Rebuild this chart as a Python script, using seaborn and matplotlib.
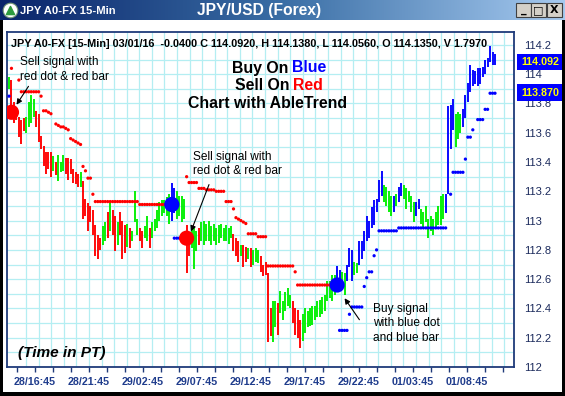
import matplotlib
matplotlib.use("Agg")
import matplotlib.pyplot as plt
from matplotlib.patches import Rectangle, FancyArrowPatch
from matplotlib.colors import LinearSegmentedColormap
import numpy as np
import pandas as pd
import seaborn as sns

W, H, DPI = 565, 396, 100

# ---------------- data ----------------
highs = [
    113.98, 113.96, 113.81, 113.76, 113.71, 113.69, 113.70, 113.71, 113.81, 113.86,
    113.83, 113.75, 113.73, 113.58, 113.51, 113.47, 113.47, 113.47, 113.44, 113.40,
    113.45, 113.40, 113.45, 113.43, 113.43, 113.42, 113.35, 113.33, 113.32, 113.33,
    113.27, 113.15, 113.12, 113.10, 113.07, 112.97, 112.90, 112.88, 112.96, 112.99,
    113.06, 113.12, 113.07, 113.03, 112.99, 113.06, 113.00, 112.97, 112.98, 112.95,
    112.93, 113.20, 113.01, 112.95, 112.93, 112.96, 113.03, 112.95, 112.99, 113.01,
    113.07, 113.13, 113.14, 113.14, 113.16, 113.18, 113.26, 113.22, 113.20, 113.17,
    113.17, 113.15, 112.97, 112.90, 112.96, 112.95, 112.93, 112.95, 112.99, 113.00,
    112.98, 113.00, 112.96, 112.98, 112.95, 112.97, 112.98, 112.95, 112.97, 112.95,
    112.96, 112.91, 112.88, 112.86, 112.83, 112.83, 112.82, 112.81, 112.81, 112.80,
    112.81, 112.80, 112.76, 112.70, 112.72, 112.64, 112.40, 112.45, 112.45, 112.44,
    112.52, 112.45, 112.51, 112.54, 112.49, 112.45, 112.40, 112.39, 112.32, 112.36,
    112.40, 112.38, 112.40, 112.42, 112.42, 112.45, 112.46, 112.48, 112.49, 112.59,
    112.59, 112.63, 112.63, 112.69, 112.66, 112.65, 112.64, 112.70, 112.81, 112.80,
    112.72, 112.71, 112.86, 112.86, 112.93, 113.03, 113.00, 113.09, 113.14, 113.15,
    113.28, 113.34, 113.24, 113.23, 113.20, 113.17, 113.17, 113.18, 113.23, 113.26,
    113.24, 113.22, 113.20, 113.17, 113.13, 113.13, 113.15, 113.08, 113.06, 113.10,
    113.01, 113.03, 113.01, 113.06, 113.10, 113.17, 113.18, 113.18, 113.78, 113.79,
    113.83, 113.73, 113.74, 113.73, 113.76, 113.86, 113.94, 114.06, 114.03, 114.02,
    114.04, 114.04, 114.05, 114.10, 114.11, 114.19, 114.15, 114.14]

lows = [
    113.90, 113.70, 113.67, 113.69, 113.57, 113.52, 113.61, 113.60, 113.64, 113.67,
    113.71, 113.64, 113.54, 113.49, 113.37, 113.32, 113.35, 113.30, 113.34, 113.31,
    113.27, 113.33, 113.34, 113.32, 113.28, 113.32, 113.26, 113.25, 113.23, 113.23,
    113.01, 113.03, 112.93, 112.99, 112.90, 112.76, 112.74, 112.80, 112.83, 112.86,
    112.88, 112.93, 112.90, 112.79, 112.83, 112.90, 112.74, 112.78, 112.82, 112.81,
    112.86, 112.99, 112.90, 112.86, 112.81, 112.88, 112.86, 112.81, 112.88, 112.93,
    112.95, 113.00, 113.03, 113.05, 113.03, 112.98, 113.00, 113.05, 113.01, 113.03,
    112.99, 113.01, 112.64, 112.76, 112.81, 112.67, 112.79, 112.83, 112.86, 112.83,
    112.86, 112.86, 112.83, 112.86, 112.83, 112.85, 112.88, 112.86, 112.86, 112.84,
    112.88, 112.79, 112.76, 112.72, 112.76, 112.68, 112.72, 112.74, 112.68, 112.70,
    112.72, 112.71, 112.65, 112.62, 112.63, 112.17, 112.21, 112.17, 112.27, 112.22,
    112.37, 112.32, 112.38, 112.42, 112.40, 112.30, 112.22, 112.20, 112.13, 112.18,
    112.23, 112.27, 112.28, 112.29, 112.32, 112.34, 112.34, 112.36, 112.38, 112.45,
    112.47, 112.45, 112.49, 112.52, 112.55, 112.54, 112.49, 112.59, 112.68, 112.59,
    112.63, 112.64, 112.70, 112.74, 112.79, 112.86, 112.88, 112.95, 112.97, 113.06,
    113.13, 113.17, 113.13, 113.10, 113.06, 113.03, 113.06, 113.10, 113.13, 113.17,
    113.15, 113.08, 113.13, 113.06, 112.99, 113.03, 113.08, 112.98, 112.95, 112.99,
    112.88, 112.93, 112.90, 112.95, 112.97, 112.97, 113.01, 113.05, 113.18, 113.49,
    113.62, 113.50, 113.56, 113.60, 113.64, 113.70, 113.81, 113.88, 113.92, 113.93,
    113.92, 113.93, 113.98, 114.00, 114.05, 114.08, 114.06, 114.06]

bar_codes = (
    "g r r r r r r g g g "
    "g r r r r r r r g r "
    "g g g r r r r r r g "
    "r r r r r r r r g g "
    "r g r r g r r r g r "
    "g g g r r g g r g g "
    "g g g g g g b b g g "
    "g g r r g g g r g g "
    "g g g g g g g g g g "
    "g r r r g r r g r g "
    "g g r r r r r g g r "
    "g g g g g r r r r g "
    "g g g g g g g g g g "
    "g g g b b g g b b b "
    "g g b b b b b b b b "
    "b b g g g g b g b b "
    "g g g g g b b g g g "
    "g g g g g g g b b b "
    "b g g g b b b b b b "
    "b b b b b b b b").split()

nan = float("nan")
stop_levels = [
    113.85, 114.04, nan, nan, 113.96, 113.88, 113.88, 113.88, 113.88, 113.88,
    113.88, 113.88, 113.88, 113.85, 113.75, 113.75, 113.74, 113.73, nan, 113.66,
    113.65, 113.64, 113.64, 113.63, 113.62, 113.56, 113.55, 113.54, 113.53, 113.52,
    113.37, 113.34, 113.29, 113.29, 113.18, 113.13, 113.13, 113.13, 113.13, 113.13,
    113.13, 113.13, 113.13, 113.13, 113.13, 113.13, 113.13, 113.13, 113.13, 113.13,
    113.13, 113.13, 113.13, 113.11, 113.11, 113.11, 113.11, 113.11, 113.11, 113.11,
    113.11, 113.11, 113.11, 113.11, 113.11, 113.11, nan, 112.88, 112.88, 112.88,
    112.88, 112.88, 113.30, 113.26, 113.26, 113.26, 113.26, 113.22, 113.22, 113.22,
    113.21, 113.21, 113.21, 113.21, 113.20, 113.20, 113.20, 113.20, 113.13, 113.13,
    113.13, 113.08, 113.02, 113.01, 113.00, 112.99, 112.98, 112.91, 112.91, 112.91,
    112.91, 112.89, 112.89, 112.89, 112.89, 112.69, 112.69, 112.69, 112.69, 112.69,
    112.69, 112.69, 112.69, 112.69, 112.69, 112.69, 112.65, 112.56, 112.56, 112.56,
    112.56, 112.56, 112.56, 112.56, 112.56, 112.56, 112.56, 112.56, 112.56, 112.56,
    112.56, nan, nan, nan, 112.25, 112.25, 112.25, 112.25, 112.36, 112.41,
    112.41, 112.41, 112.41, 112.41, 112.55, 112.61, 112.65, 112.65, 112.76, 112.80,
    112.93, 112.93, 112.93, 112.93, 112.93, 112.93, 112.93, 112.93, 112.95, 112.95,
    112.95, 112.95, 112.95, 112.95, 112.95, 112.95, 112.95, 112.95, 112.95, 112.95,
    112.95, 112.95, 112.95, 112.95, 112.95, 112.95, 112.95, 112.95, nan, 113.18,
    113.33, 113.33, 113.33, 113.33, 113.33, 113.42, 113.57, 113.57, 113.62, nan,
    113.69, 113.69, 113.69, 113.76, 113.76, 113.87, 113.87, 113.87]

signal_idx = [1, 66, 72, 133]
signal_price = [113.74, 113.11, 112.88, 112.56]
signal_codes = ["r", "b", "r", "b"]

time_labels = ["28/16:45", "28/21:45", "29/02:45", "29/07:45", "29/12:45",
               "29/17:45", "29/22:45", "01/03:45", "01/08:45"]
ytick_vals = [112.0, 112.2, 112.4, 112.6, 112.8, 113.0, 113.2, 113.4, 113.6,
              113.8, 114.0, 114.2]
ytick_labels = ["112", "112.2", "112.4", "112.6", "112.8", "113", "113.2",
                "113.4", "113.6", "113.8", "114", "114.2"]

header = ("JPY A0-FX [15-Min] 03/01/16  -0.0400 C 114.0920, H 114.1380, "
          "L 114.0560, O 114.1350, V 1.7970")
last_close_txt = "114.092"
last_stop_txt = "113.870"

# ---------------- style ----------------
sns.set_theme(style="white")
plt.rcParams['font.family'] = ['Liberation Sans', 'DejaVu Sans']

palette = {"r": "#ff0000", "g": "#00f000", "b": "#0000ff"}
NAVY = "#1f3a7a"
GRID = "#b4eef2"

fig = plt.figure(figsize=(W / DPI, H / DPI), dpi=DPI, facecolor="white")
renderer = fig.canvas.get_renderer()


def fxy(px, py):
    return px / W, 1 - py / H


def text_width(s, size=10, weight="normal", style="normal"):
    t = fig.text(0, 0, s, fontsize=size, fontweight=weight, fontstyle=style)
    w = t.get_window_extent(renderer=renderer).width
    t.remove()
    return w


def fit_size(s, target, weight="normal", style="normal"):
    return 10 * target / text_width(s, 10, weight, style)


# ---------------- main panel ----------------
AX_L, AX_R, AX_T, AX_B = 7, 514, 32, 367
ax = fig.add_axes([AX_L / W, 1 - AX_B / H, (AX_R - AX_L) / W, (AX_B - AX_T) / H])
ax.set_facecolor("white")

X0, DX = 9.0, 2.467      # pixel of first bar, pixels per bar
Y0, DY = 45.0, 147.27    # pixel of 114.2, pixels per price unit
xlim = ((AX_L - X0) / DX, (AX_R - X0) / DX)
ylim = (114.2 - (AX_B - Y0) / DY, 114.2 + (Y0 - AX_T) / DY)

for v in np.arange(112.0, 114.31, 0.1):
    ax.axhline(v, color=GRID, lw=0.9, zorder=0)
for g in np.arange(6.9, xlim[1], 5.1):
    ax.axvline(g, color=GRID, lw=0.9, zorder=0)

idx = np.arange(len(highs))
ax.vlines(idx, lows, highs, colors=[palette[c] for c in bar_codes],
          linewidth=1.35, zorder=2)

# trend colour of the stop dots follows the latest signal
trend = []
cur = "b"
for i in idx:
    if i in signal_idx:
        cur = signal_codes[signal_idx.index(i)]
    trend.append(cur)
df_stop = pd.DataFrame({"i": idx, "level": stop_levels, "trend": trend}).dropna()
sns.scatterplot(data=df_stop, x="i", y="level", hue="trend", palette=palette,
                s=5.5, linewidth=0, legend=False, ax=ax, zorder=3)

df_sig = pd.DataFrame({"i": signal_idx, "level": signal_price, "trend": signal_codes})
sns.scatterplot(data=df_sig, x="i", y="level", hue="trend", palette=palette,
                s=120, linewidth=0, legend=False, ax=ax, zorder=4)

ax.set_xlim(*xlim)
ax.set_ylim(*ylim)
ax.set_xlabel("")
ax.set_ylabel("")

for sp in ax.spines.values():
    sp.set_color(NAVY)
    sp.set_linewidth(1.3)

ysz = fit_size("114.2", 27)
ax.yaxis.tick_right()
ax.set_yticks(ytick_vals)
ax.set_yticklabels(ytick_labels)
ax.tick_params(axis="y", which="both", length=0, pad=7.2, labelsize=ysz,
               labelcolor="#1b2a5c", left=False, right=True)

xsz = fit_size("28/16:45", 42, "bold")
LAB0, LABSTEP = (35 - X0) / DX, 54.0 / DX
xt = [LAB0 + k * LABSTEP for k in range(len(time_labels))]
ax.set_xticks(xt)
ax.set_xticklabels(time_labels, fontweight="bold")
minor = [LAB0 + k * LABSTEP / 3 for k in range(-1, 3 * len(time_labels) + 2)]
ax.set_xticks([m for m in minor if xlim[0] < m < xlim[1]], minor=True)
ax.tick_params(axis="x", which="both", bottom=True, direction="out", length=3.6,
               width=1.0, color=NAVY, pad=3.6, labelsize=xsz, labelcolor="#1f3c8c")

# ---------------- texts inside panel ----------------
hsz = fit_size(header, 483, "bold")
fig.text(*fxy(11, 44), header, fontsize=hsz, fontweight="bold", color="black",
         ha="left", va="center", zorder=6)

big = fit_size("Chart with AbleTrend", 159, "bold")


def two_color(cx, cy, first, second, col2, size):
    full = text_width(first + " " + second, size, "bold")
    x0 = cx - full / 2
    fig.text(*fxy(x0, cy), first, fontsize=size, fontweight="bold", color="black",
             ha="left", va="center", zorder=6)
    fig.text(*fxy(x0 + full, cy), second, fontsize=size, fontweight="bold",
             color=col2, ha="right", va="center", zorder=6)


two_color(279, 68, "Buy On", "Blue", "#0000ff", big)
two_color(279, 86, "Sell On", "Red", "#ff0000", big)
fig.text(*fxy(268, 104), "Chart with AbleTrend", fontsize=big, fontweight="bold",
         color="black", ha="center", va="center", zorder=6)

asz = fit_size("Sell signal with", 79)
for (x, y), lines in [((20, 62), ["Sell signal with", "red dot & red bar"]),
                      ((193, 157), ["Sell signal with", "red dot & red bar"]),
                      ((373, 309), ["Buy signal", "with blue dot", "and blue bar"])]:
    for k, s in enumerate(lines):
        fig.text(*fxy(x, y + 14.5 * k), s, fontsize=asz, color="black",
                 ha="left", va="center", zorder=6)

for a, b in [((30, 84), (15, 107)), ((210, 182), (190, 234)), ((361, 322), (343, 296))]:
    fig.add_artist(FancyArrowPatch(fxy(*a), fxy(*b), transform=fig.transFigure,
                                   arrowstyle="-|>", mutation_scale=8,
                                   color="black", lw=0.8, zorder=7))

tsz = fit_size("(Time in PT)", 88, "bold", "italic")
fig.text(*fxy(18, 353), "(Time in PT)", fontsize=tsz, fontweight="bold",
         fontstyle="italic", color="black", ha="left", va="center", zorder=6)

# ---------------- price boxes on the right ----------------
bsz = fit_size(last_close_txt, 38, "bold")
for (y0, h), s in [((54, 16), last_close_txt), ((84, 17), last_stop_txt)]:
    fig.add_artist(Rectangle(fxy(517, y0 + h), 46 / W, h / H, transform=fig.transFigure,
                             facecolor="#0000ff", edgecolor="none", zorder=8))
    fig.text(*fxy(540, y0 + h / 2), s, fontsize=bsz, fontweight="bold",
             color="#ffff00", ha="center", va="center", zorder=9)

# ---------------- window frame ----------------
TB = 20
tb = fig.add_axes([0, 1 - TB / H, 1, TB / H])
cmap = LinearSegmentedColormap.from_list("tb", ["#0a246a", "#3a6ea5", "#a6caf0"])
tb.imshow(np.linspace(0, 1, 256)[None, :], aspect="auto", cmap=cmap,
          extent=[0, 1, 0, 1])
tb.set_xlim(0, 1)
tb.set_ylim(0, 1)
tb.axis("off")
tb.scatter([10 / W], [0.5], s=110, color="white", edgecolors="#7a9a7a", linewidths=0.8, zorder=3)
tb.scatter([10 / W], [0.48], s=35, marker="^", color="#2e9a3e", zorder=4)

t1 = fit_size("JPY A0-FX 15-Min", 95, "bold")
fig.text(*fxy(20, 11), "JPY A0-FX 15-Min", fontsize=t1, fontweight="bold",
         color="white", ha="left", va="center", zorder=9)
t2 = fit_size("JPY/USD (Forex)", 124, "bold")
fig.text(*fxy(197, 11), "JPY/USD (Forex)", fontsize=t2, fontweight="bold",
         color="white", ha="left", va="center", zorder=9)

for bx, sym in [(516, "_"), (531, "□"), (547, "X")]:
    fig.add_artist(Rectangle(fxy(bx, 17), 15 / W, 14 / H, transform=fig.transFigure,
                             facecolor="#d4d0c8", edgecolor="#404040", lw=0.8, zorder=9))
    fig.text(*fxy(bx + 7.5, 10), sym, fontsize=8, fontweight="bold", color="black",
             family=["DejaVu Sans"], ha="center", va="center", zorder=10)

for r in [(0, 0, 3, H - TB), (W - 3, 0, 3, H - TB), (0, 0, W, 4)]:
    fig.add_artist(Rectangle((r[0] / W, r[1] / H), r[2] / W, r[3] / H,
                             transform=fig.transFigure, facecolor="black",
                             edgecolor="none", zorder=10))

fig.savefig("out.png", dpi=DPI, facecolor="white")
